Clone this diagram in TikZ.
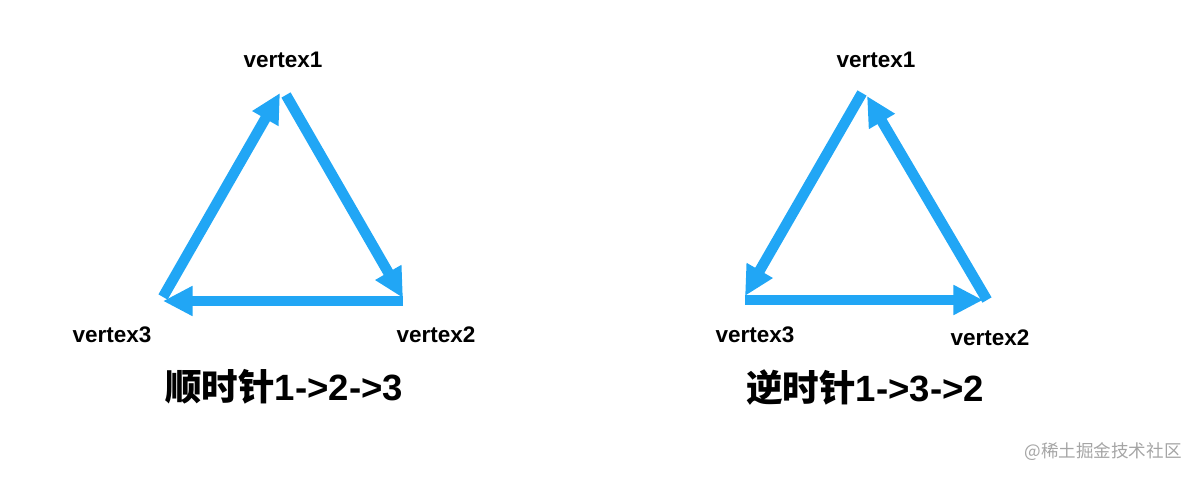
\documentclass[tikz,border=0pt]{standalone}
\usepackage{fontspec}
\setmainfont{Liberation Sans}
\newfontfamily\cjk{Noto Sans CJK SC}
\usetikzlibrary{arrows.meta}
\definecolor{edgeblue}{RGB}{33,166,245}
\definecolor{markgray}{RGB}{165,165,165}
\tikzset{
  edge/.style={-{Triangle[length=21pt,width=20pt]}, line width=7.5pt, edgeblue},
  vlabel/.style={font=\bfseries\fontsize{16}{18}\selectfont, inner sep=0pt},
  title/.style={font=\bfseries\fontsize{26}{30}\selectfont, inner sep=0pt}
}
\begin{document}
\begin{tikzpicture}[x=0.025cm, y=-0.025cm]
  \useasboundingbox (0,0) rectangle (1200,479);
  % clockwise
  \coordinate (c1s) at (163,297) ;
  \coordinate (c1t) at (280,93) ;
  \coordinate (c2s) at (286,95) ;
  \coordinate (c2t) at (403,298) ;
  \coordinate (c3s) at (403,301) ;
  \coordinate (c3t) at (163,301) ;
  \draw[edge] (c1s) -- (c1t);
  \draw[edge] (c2s) -- (c2t);
  \draw[edge] (c3s) -- (c3t);
  \node[vlabel] (cv1) at (283,60) {vertex1};
  \node[vlabel] (cv2) at (436,335) {vertex2};
  \node[vlabel] (cv3) at (112,335) {vertex3};
  \node[title] (ctitle) at (284,387) {{\cjk\bfseries 顺时针}1->2->3};
  % counter-clockwise
  \coordinate (a1s) at (862,93) ;
  \coordinate (a1t) at (745,296) ;
  \coordinate (a2s) at (745,300) ;
  \coordinate (a2t) at (983,300) ;
  \coordinate (a3s) at (987,300) ;
  \coordinate (a3t) at (867,96) ;
  \draw[edge] (a1s) -- (a1t);
  \draw[edge] (a2s) -- (a2t);
  \draw[edge] (a3s) -- (a3t);
  \node[vlabel] (av1) at (876,60) {vertex1};
  \node[vlabel] (av2) at (990,338) {vertex2};
  \node[vlabel] (av3) at (755,335) {vertex3};
  \node[title] (atitle) at (865,388) {{\cjk\bfseries 逆时针}1->3->2};
  % watermark
  \node[inner sep=0pt, markgray, font=\fontsize{12.5}{14}\selectfont] (mark) at (1103,452) {{\cjk @稀土掘金技术社区}};
\end{tikzpicture}
\end{document}
